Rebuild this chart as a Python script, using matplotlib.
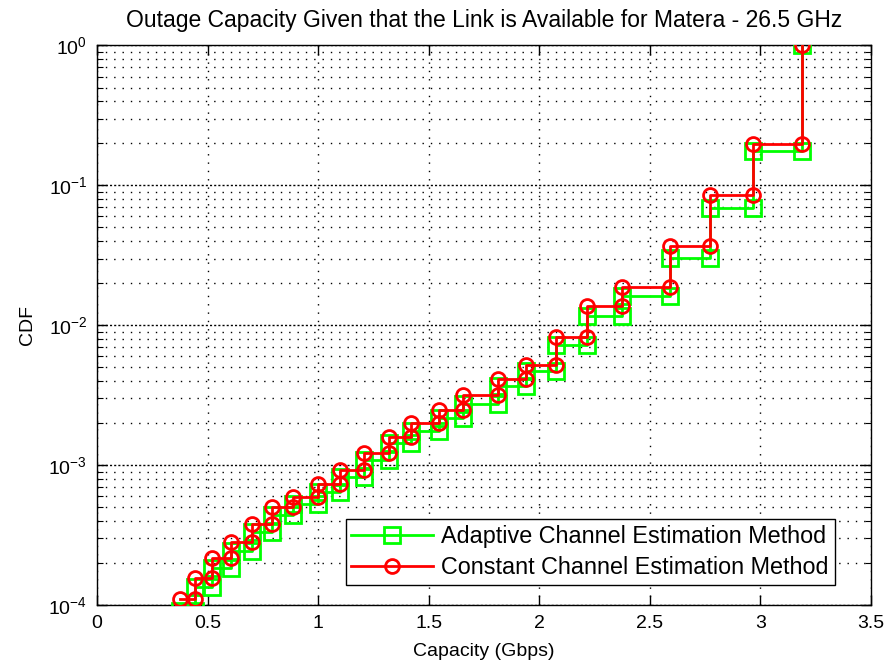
import matplotlib
matplotlib.use("Agg")
import matplotlib.pyplot as plt
from matplotlib.ticker import LogLocator, FixedLocator, NullFormatter

plt.rcParams["font.family"] = ["Liberation Sans", "DejaVu Sans"]
plt.rcParams["mathtext.fontset"] = "custom"
plt.rcParams["mathtext.rm"] = "Liberation Sans"

# Capacity levels (Gbps) at which the CDF steps
capacity = [0.377, 0.445, 0.521, 0.608, 0.700, 0.790, 0.888, 0.998, 1.097,
            1.208, 1.320, 1.420, 1.545, 1.656, 1.814, 1.942, 2.074, 2.217,
            2.373, 2.590, 2.773, 2.968, 3.190]

# CDF value held from each capacity level to the next one
cdf_adaptive = [9.0e-5, 1.35e-4, 1.85e-4, 2.45e-4, 3.3e-4, 4.4e-4, 5.3e-4,
                6.45e-4, 8.2e-4, 1.08e-3, 1.45e-3, 1.76e-3, 2.19e-3, 2.75e-3,
                3.66e-3, 4.69e-3, 7.27e-3, 0.0117, 0.0161, 0.0305, 0.0687,
                0.176, 1.0]
cdf_constant = [1.1e-4, 1.57e-4, 2.16e-4, 2.83e-4, 3.8e-4, 5.0e-4, 5.94e-4,
                7.3e-4, 9.3e-4, 1.23e-3, 1.6e-3, 1.99e-3, 2.47e-3, 3.16e-3,
                4.15e-3, 5.18e-3, 8.2e-3, 0.0137, 0.0188, 0.0366, 0.085,
                0.196, 1.0]

labels = ["Adaptive Channel Estimation Method",
          "Constant Channel Estimation Method"]
x_ticks = [0, 0.5, 1, 1.5, 2, 2.5, 3, 3.5]
x_tick_labels = ["0", "0.5", "1", "1.5", "2", "2.5", "3", "3.5"]


def stairs(xs, ys):
    """Corner points of a staircase: hold ys[k] from xs[k] to xs[k+1]."""
    px, py = [], []
    for k in range(len(xs) - 1):
        px += [xs[k], xs[k + 1]]
        py += [ys[k], ys[k]]
    px.append(xs[-1])
    py.append(ys[-1])
    return px, py


fig = plt.figure(figsize=(8.87, 6.68), dpi=100)
ax = fig.add_axes([0.1094, 0.0943, 0.8726, 0.8376])

xa, ya = stairs(capacity, cdf_adaptive)
xc, yc = stairs(capacity, cdf_constant)
ax.semilogy(xa, ya, color=(0, 1, 0), lw=2, marker="s", ms=11,
            mfc="none", mec=(0, 1, 0), mew=2, label=labels[0], zorder=3)
ax.semilogy(xc, yc, color=(1, 0, 0), lw=2, marker="o", ms=10,
            mfc="none", mec=(1, 0, 0), mew=2, label=labels[1], zorder=4)

ax.set_xlim(0, 3.5)
ax.set_ylim(1e-4, 1)
ax.xaxis.set_major_locator(FixedLocator(x_ticks))
ax.set_xticklabels(x_tick_labels)
ax.yaxis.set_major_locator(LogLocator(base=10, numticks=10))
ax.yaxis.set_minor_locator(LogLocator(base=10, subs=range(2, 10), numticks=20))
ax.yaxis.set_minor_formatter(NullFormatter())

ax.grid(True, which="major", axis="x", color="black", linestyle=(0, (1, 5)),
        linewidth=1)
ax.grid(True, which="major", axis="y", color="black", linestyle=(0, (1.5, 1.5)),
        linewidth=1)
ax.grid(True, which="minor", axis="y", color="black", linestyle=(0, (1, 5)),
        linewidth=1)
ax.set_axisbelow(True)

ax.tick_params(which="both", direction="in", top=True, right=True,
               labelsize=14, colors="black", pad=7)
ax.tick_params(which="major", length=7, width=1)
ax.tick_params(which="minor", length=4, width=0.8)
for s in ax.spines.values():
    s.set_linewidth(1)

ax.set_title("Outage Capacity Given that the Link is Available for Matera - 26.5 GHz",
             fontsize=16.5, pad=13)
ax.set_xlabel("Capacity (Gbps)", fontsize=14, labelpad=8)
ax.set_ylabel("CDF", fontsize=14, labelpad=9)

leg = ax.legend(loc="lower right", fontsize=16.8, frameon=True, fancybox=False,
                edgecolor="black", framealpha=1, borderpad=0.25,
                handlelength=3.5, handletextpad=0.35, labelspacing=0.35,
                borderaxespad=0, bbox_to_anchor=(0.953, 0.036))
leg.get_frame().set_linewidth(1)

fig.savefig("out.png", dpi=100, facecolor="white")
